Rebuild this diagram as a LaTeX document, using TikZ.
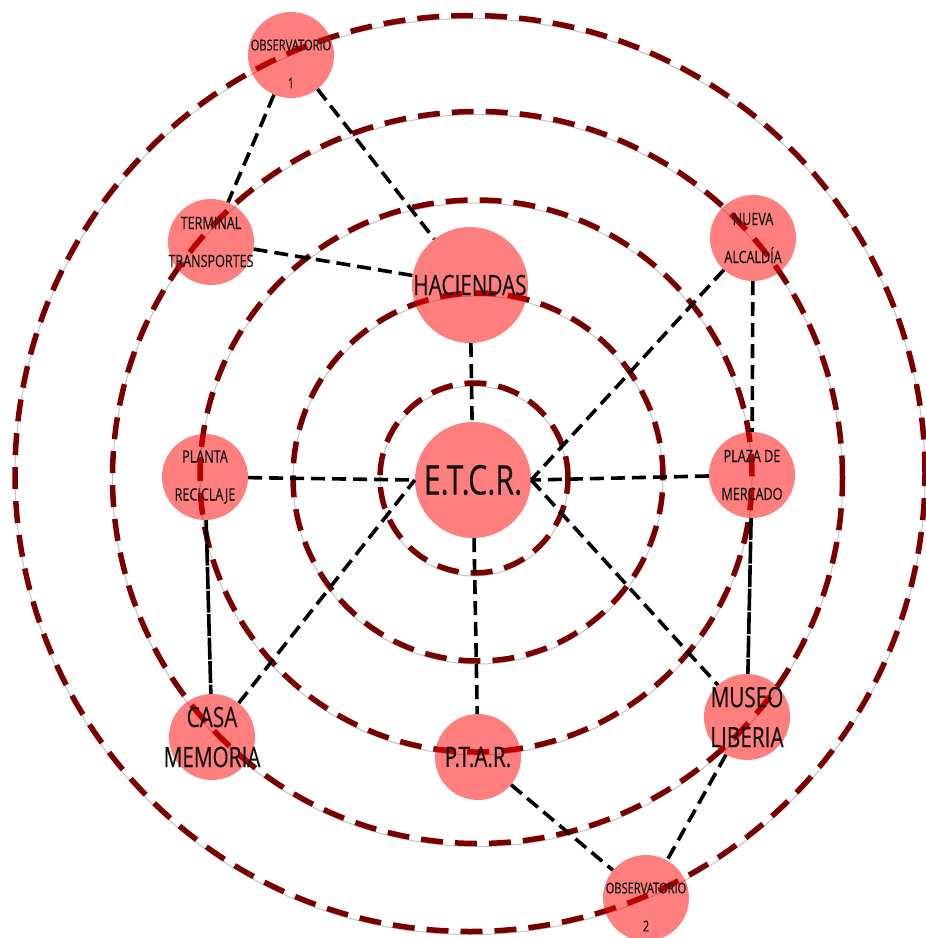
\documentclass[tikz,border=0pt]{standalone}
\usepackage{fontspec}
\usetikzlibrary{calc}
\newfontfamily\lab[FakeStretch=0.74,FakeBold=0.4]{Open Sans}
\definecolor{ringred}{RGB}{122,0,0}
\definecolor{ringgray}{RGB}{195,195,195}
\begin{document}
\begin{tikzpicture}[x=1pt,y=-1pt,
  ringline/.style={draw=ringgray, line width=1pt},
  ringdash/.style={draw=ringred, line width=5.5pt, dash pattern=on 22pt off 12pt},
  place/.style={circle, fill=red, fill opacity=0.5, inner sep=0pt, minimum size=86pt},
  bigplace/.style={place, minimum size=116pt},
  link/.style={black, line width=3.6pt, dash pattern=on 14pt off 7pt},
  solidlink/.style={black, line width=3.6pt, dash pattern=on 22pt off 1.5pt},
  lbl/.style={align=center, text=black!92, inner sep=0pt},
  small/.style={lbl, font=\lab\fontsize{17}{38}\selectfont},
  tiny/.style={lbl, font=\lab\fontsize{15}{38}\selectfont},
  mid/.style={lbl, font=\lab\fontsize{28}{40}\selectfont},
  large/.style={lbl, font=\lab\fontsize{41}{42}\selectfont}]
\useasboundingbox (0,0) rectangle (926,938);
\fill[white] (0,0) rectangle (926,938);
% rings
\foreach \cx/\cy/\rx/\ry in {474/478/94/95, 478/477/185/184, 476/476/276/276, 477.5/477.5/365/366, 470/473.5/455/458}{
  \draw[ringline] (\cx,\cy+3) ellipse [x radius=\rx pt, y radius=\ry pt];
  \draw[ringdash] (\cx,\cy) ellipse [x radius=\rx pt, y radius=\ry pt];
}
% nodes
\node[place] (obs1) at (291,55) {};
\node[place] (term) at (211,242) {};
\node[bigplace] (hac) at (470,285) {};
\node[place] (nueva) at (753,238) {};
\node[place] (planta) at (205,477) {};
\node[bigplace] (etcr) at (473,480) {};
\node[place] (plaza) at (752,475) {};
\node[place] (casa) at (212,737) {};
\node[place] (ptar) at (478,757) {};
\node[place] (museo) at (747,717) {};
\node[place] (obs2) at (646,898) {};
% connectors
\draw[link] (obs1) -- (term);
\draw[link] (obs1) -- (hac);
\draw[link] (term) -- (hac);
\draw[link] (hac) -- (etcr);
\draw[link] (nueva) -- (etcr.east);
\draw[link] (nueva) -- (plaza);
\draw[link] (plaza) -- (etcr.east);
\draw[link] (etcr.east) -- (museo);
\draw[solidlink] (plaza) -- (museo);
\draw[link] (planta) -- (etcr.west);
\draw[solidlink] (planta) -- (casa);
\draw[link] (casa) -- (etcr.west);
\draw[link] (etcr) -- (ptar);
\draw[link] (ptar) -- (obs2);
\draw[link] (museo) -- (obs2);
% labels
\node[tiny] (l-obs1) at ($(obs1)+(0,9)$) {OBSERVATORIO\\1};
\node[small] (l-term) at (term) {TERMINAL\\TRANSPORTES};
\node[mid] (l-hac) at (hac) {HACIENDAS};
\node[small] (l-nueva) at (nueva) {NUEVA\\ALCALDÍA};
\node[small] (l-planta) at (planta) {PLANTA\\RECICLAJE};
\node[large] (l-etcr) at (etcr) {E.T.C.R.};
\node[small] (l-plaza) at (plaza) {PLAZA DE\\MERCADO};
\node[mid] (l-casa) at (casa) {CASA\\MEMORIA};
\node[mid] (l-ptar) at (ptar) {P.T.A.R.};
\node[mid] (l-museo) at (museo) {MUSEO\\LIBERIA};
\node[tiny] (l-obs2) at ($(obs2)+(0,9)$) {OBSERVATORIO\\2};
\end{tikzpicture}
\end{document}
